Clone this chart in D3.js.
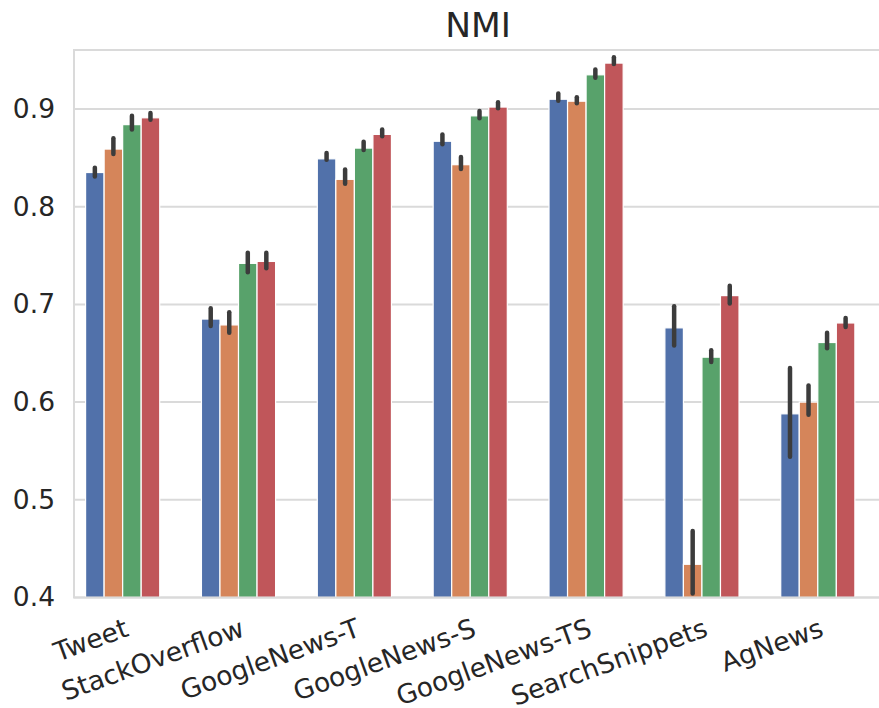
<!DOCTYPE html>
<html><head><meta charset="utf-8">
<script src="https://cdn.jsdelivr.net/npm/d3@7"></script>
<style>body{margin:0;background:#fff;} svg{display:block;}</style>
</head><body>
<svg id="c" width="879" height="708"></svg>
<script>
const categories = ["Tweet","StackOverflow","GoogleNews-T","GoogleNews-S","GoogleNews-TS","SearchSnippets","AgNews"];
const seriesNames = ["A","B","C","D"];
const seriesColors = ["#5171aa","#d5855a","#58a26b","#c0565a"];
// mean values per series (one entry per category)
const valuesA = [0.835,0.685,0.849,0.867,0.910,0.676,0.588];
const valuesB = [0.859,0.679,0.828,0.843,0.908,0.434,0.600];
const valuesC = [0.884,0.742,0.860,0.893,0.935,0.646,0.661];
const valuesD = [0.891,0.744,0.874,0.902,0.947,0.709,0.681];
// error bar lower / upper
const lowA = [0.831,0.678,0.848,0.864,0.9085,0.658,0.544];
const highA= [0.840,0.696,0.855,0.874,0.916,0.698,0.635];
const lowB = [0.854,0.671,0.8235,0.8385,0.906,0.404,0.587];
const highB= [0.870,0.692,0.838,0.851,0.912,0.468,0.617];
const lowC = [0.879,0.733,0.858,0.8905,0.932,0.641,0.655];
const highC= [0.893,0.753,0.8665,0.898,0.9405,0.653,0.671];
const lowD = [0.889,0.737,0.872,0.9007,0.946,0.701,0.677];
const highD= [0.896,0.753,0.879,0.907,0.953,0.719,0.686];
const yTicks = [0.4,0.5,0.6,0.7,0.8,0.9];
const titleText = "NMI";

const values=[valuesA,valuesB,valuesC,valuesD];
const lows=[lowA,lowB,lowC,lowD], highs=[highA,highB,highC,highD];

const svg=d3.select("#c");
const L=74,R=885,T=50,B=597.5;
const x=d3.scaleBand().domain(categories).range([L,R]).padding(0);
const y=d3.scaleLinear().domain([0.4,0.9604]).range([B,T]);
const bw=x.bandwidth();
const slot=bw*0.16;

const grid="#dadada";
svg.append("g").selectAll("line").data(yTicks).join("line")
  .attr("x1",L).attr("x2",R).attr("y1",d=>y(d)).attr("y2",d=>y(d))
  .attr("stroke",grid).attr("stroke-width",2);

const data=[];
values.forEach((vals,s)=>vals.forEach((v,i)=>data.push({s,i,v,lo:lows[s][i],hi:highs[s][i]})));
svg.append("g").selectAll("rect").data(data).join("rect")
  .attr("x",d=>x(categories[d.i])+bw*0.1+d.s*slot)
  .attr("width",slot)
  .attr("y",d=>y(d.v)).attr("height",d=>y(0.4)-y(d.v))
  .attr("fill",d=>seriesColors[d.s]).attr("stroke","#fff").attr("stroke-width",1.2);

svg.append("g").selectAll("line").data(data).join("line")
  .attr("x1",d=>x(categories[d.i])+bw*0.1+(d.s+0.5)*slot)
  .attr("x2",d=>x(categories[d.i])+bw*0.1+(d.s+0.5)*slot)
  .attr("y1",d=>y(d.lo)).attr("y2",d=>y(d.hi))
  .attr("stroke","#3c3c3c").attr("stroke-width",4.5).attr("stroke-linecap","round");

svg.append("rect").attr("x",L).attr("y",T).attr("width",R-L).attr("height",B-T)
  .attr("fill","none").attr("stroke",grid).attr("stroke-width",2);

const font="DejaVu Sans";
const ya=d3.axisLeft(y).tickValues(yTicks).tickFormat(d3.format(".1f")).tickSize(0).tickPadding(19);
const yg=svg.append("g").attr("transform",`translate(${L},0)`).call(ya);
yg.select(".domain").remove();
yg.selectAll("text").attr("font-family",font).attr("font-size",26.5).attr("fill","#262626");

const xa=d3.axisBottom(x).tickSize(0).tickPadding(0);
const xg=svg.append("g").attr("transform",`translate(0,${B})`).call(xa);
xg.select(".domain").remove();
xg.selectAll("text")
  .attr("font-family",font).attr("font-size",26.5).attr("fill","#262626")
  .attr("text-anchor","end").attr("dy",null).attr("y",0)
  .attr("transform","translate(-2,38) rotate(-20)");

svg.append("text").attr("x",478).attr("y",37).attr("text-anchor","middle")
  .attr("font-family",font).attr("font-size",34.5).attr("fill","#262626").text(titleText);
</script>
</body></html>
